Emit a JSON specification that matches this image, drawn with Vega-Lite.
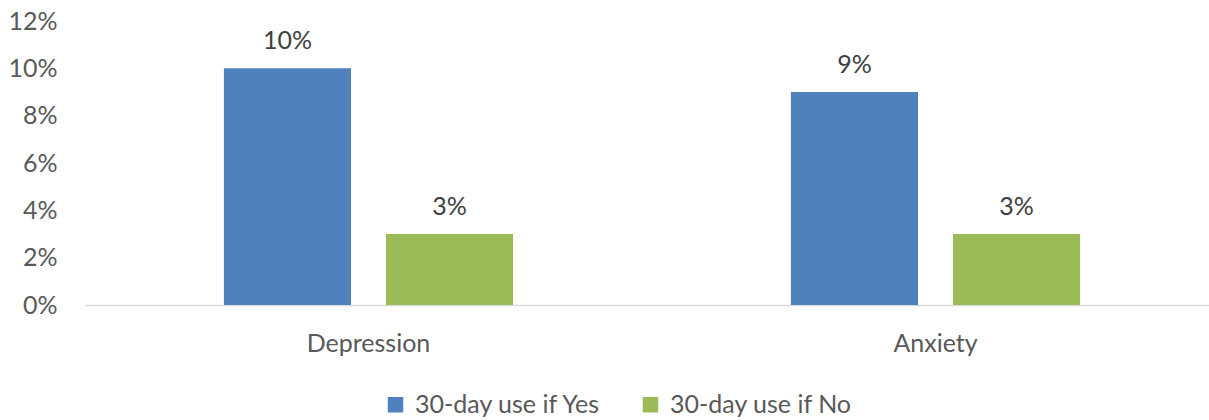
{
  "$schema": "https://vega.github.io/schema/vega-lite/v6.json",
  "width": 1134,
  "height": 284,
  "autosize": "none",
  "padding": {"left": 85, "top": 21, "right": 0, "bottom": 115},
  "config": {
    "view": {"stroke": null},
    "font": "Lato",
    "axis": {"labelFont": "Lato", "labelFontSize": 25, "labelColor": "#595959", "grid": false, "ticks": false, "title": null},
    "legend": {"labelFont": "Lato", "labelFontSize": 25, "labelColor": "#595959"}
  },
  "data": {
    "values": [
      {"condition": "Depression", "group": "30-day use if Yes", "share": 0.10},
      {"condition": "Depression", "group": "30-day use if No", "share": 0.03},
      {"condition": "Anxiety", "group": "30-day use if Yes", "share": 0.09},
      {"condition": "Anxiety", "group": "30-day use if No", "share": 0.03}
    ]
  },
  "encoding": {
    "x": {
      "field": "condition",
      "type": "nominal",
      "sort": ["Depression", "Anxiety"],
      "scale": {"paddingInner": 0.49, "paddingOuter": 0.245},
      "axis": {"labelAngle": 0, "domainColor": "#D9D9D9", "domainWidth": 1.5, "labelPadding": 26}
    },
    "xOffset": {
      "field": "group",
      "type": "nominal",
      "sort": ["30-day use if Yes", "30-day use if No"],
      "scale": {"paddingInner": 0.216, "paddingOuter": 0}
    },
    "y": {
      "field": "share",
      "type": "quantitative",
      "scale": {"domain": [0, 0.12]},
      "axis": {"format": ".0%", "values": [0, 0.02, 0.04, 0.06, 0.08, 0.10, 0.12], "labelOverlap": false, "domain": false, "labelPadding": 28}
    }
  },
  "layer": [
    {
      "mark": {"type": "bar"},
      "encoding": {
        "color": {
          "field": "group",
          "type": "nominal",
          "sort": ["30-day use if Yes", "30-day use if No"],
          "scale": {"domain": ["30-day use if Yes", "30-day use if No"], "range": ["#4F81BD", "#9BBB59"]},
          "legend": {
            "title": null,
            "orient": "none",
            "legendX": 298,
            "legendY": 371,
            "direction": "horizontal",
            "symbolType": "square",
            "symbolSize": 240,
            "symbolStrokeWidth": 0,
            "symbolOpacity": 1,
            "columnPadding": 36,
            "labelOffset": 7,
            "labelLimit": 400
          }
        }
      }
    },
    {
      "mark": {"type": "text", "baseline": "bottom", "dy": -14, "fontSize": 25, "color": "#404040", "font": "Lato"},
      "encoding": {
        "text": {"field": "share", "type": "quantitative", "format": ".0%"}
      }
    }
  ]
}
